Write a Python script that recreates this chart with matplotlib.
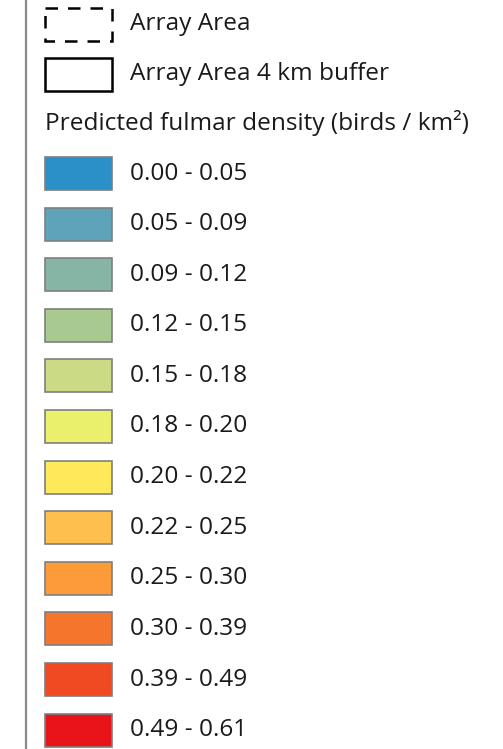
import matplotlib
matplotlib.use("Agg")
import matplotlib.pyplot as plt
from matplotlib.patches import Rectangle

plt.rcParams["font.family"] = ["Open Sans", "DejaVu Sans"]

# Legend entries
outline_labels = ["Array Area", "Array Area 4 km buffer"]
outline_styles = ["--", "-"]
density_title = "Predicted fulmar density (birds / km\u00b2)"
class_labels = [
    "0.00 - 0.05", "0.05 - 0.09", "0.09 - 0.12", "0.12 - 0.15",
    "0.15 - 0.18", "0.18 - 0.20", "0.20 - 0.22", "0.22 - 0.25",
    "0.25 - 0.30", "0.30 - 0.39", "0.39 - 0.49", "0.49 - 0.61",
]
class_colors = [
    "#2b8fc8", "#5fa3ba", "#86b5a6", "#a8c98f",
    "#cbdb85", "#eaf06c", "#fde95a", "#fdc04c",
    "#fd9b3a", "#f5752d", "#ef4a22", "#e81419",
]

W, H = 503, 749
fig = plt.figure(figsize=(W / 100, H / 100), dpi=100)
ax = fig.add_axes([0, 0, 1, 1])
ax.set_xlim(0, W)
ax.set_ylim(H, 0)
ax.axis("off")

# left frame line
ax.plot([26, 26], [0, H], color="#8a8a8a", lw=1.6)

sw_x, sw_w, sw_h = 45, 67, 33
text_x = 130
fs = 17.6

# outline entries
for i, (lab, ls) in enumerate(zip(outline_labels, outline_styles)):
    y0 = 8 + i * 50
    ax.add_patch(Rectangle((sw_x, y0), sw_w, sw_h, fill=False, ec="black",
                           lw=1.8, ls=(0, (5, 4))))
    if ls == "-":
        ax.patches[-1].set_linestyle("-")
    ax.text(text_x, y0 + sw_h / 2, lab, fontsize=fs, va="center", ha="left",
            color="#1a1a1a")

ax.text(sw_x, 123, density_title, fontsize=fs, va="center", ha="left",
        color="#1a1a1a")

# density classes
pitch = 50.6
for i, (lab, col) in enumerate(zip(class_labels, class_colors)):
    y0 = 157 + i * pitch
    ax.add_patch(Rectangle((sw_x, y0), sw_w, sw_h, fc=col, ec="#7f7f7f", lw=1.2))
    ax.text(text_x, y0 + sw_h / 2, lab, fontsize=fs, va="center", ha="left",
            color="#1a1a1a")

fig.savefig("out.png", dpi=100)
